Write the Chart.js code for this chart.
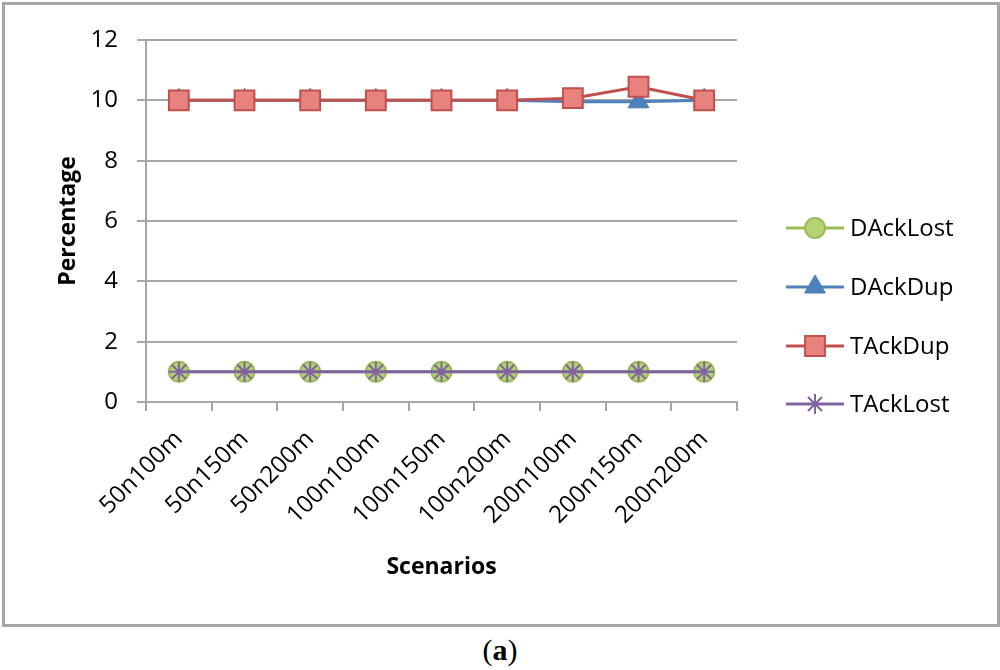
<!DOCTYPE html>
<html>
<head>
<meta charset="utf-8">
<script src="https://cdn.jsdelivr.net/npm/chart.js@4.4.0/dist/chart.umd.min.js"></script>
<style>
    body { margin: 0; background: #fff; }
    #wrap { position: relative; width: 1000px; height: 670px; }
    #frame { position: absolute; left: 2px; top: 2px; width: 992px; height: 619px; border: 3px solid #a5a5a5; }
    #chart { position: absolute; left: 0; top: 0; }
    #caption { position: absolute; left: 0; width: 1000px; top: 633px; text-align: center;
        font-family: "Liberation Serif", serif; font-size: 30px; }
</style>
</head>
<body>
<div id="wrap">
    <div id="frame"></div>
    <canvas id="chart" width="1000" height="625"></canvas>
    <div id="caption">(<b>a</b>)</div>
</div>
<script>
const scenarios = ["50n100m", "50n150m", "50n200m", "100n100m", "100n150m", "100n200m", "200n100m", "200n150m", "200n200m"];
const dAckLost = [1, 1, 1, 1, 1, 1, 1, 1, 1];
const dAckDup = [10, 10, 10, 10, 10, 10, 9.95, 9.95, 10];
const tAckDup = [10, 10, 10, 10, 10, 10, 10.07, 10.45, 10];
const tAckLost = [1, 1, 1, 1, 1, 1, 1, 1, 1];
const legendRows = [228, 287, 346, 404];

const font = "'Open Sans', sans-serif";
const gridGray = "#a6a6a6";

// legend drawn by hand so each entry gets the line through the marker
const sideLegend = {
    id: "sideLegend",
    afterDraw(chart) {
        const c = chart.ctx;
        chart.data.datasets.forEach((ds, i) => {
            const y = legendRows[i];
            c.save();
            c.strokeStyle = ds.borderColor;
            c.lineWidth = 3;
            c.beginPath();
            c.moveTo(786, y);
            c.lineTo(844, y);
            c.stroke();
            c.fillStyle = ds.pointBackgroundColor;
            c.strokeStyle = ds.pointBorderColor;
            c.lineWidth = ds.pointBorderWidth;
            Chart.helpers.drawPoint(c, { pointStyle: ds.pointStyle, radius: ds.pointRadius, borderWidth: ds.pointBorderWidth, rotation: 0 }, 815, y);
            c.fillStyle = "#000";
            c.font = "24px " + font;
            c.textBaseline = "middle";
            c.fillText(ds.label, 850, y + 1);
            c.restore();
        });
    },
};

new Chart(document.getElementById("chart"), {
    type: "line",
    data: {
        labels: scenarios,
        datasets: [
            {
                label: "DAckLost",
                data: dAckLost,
                borderColor: "#9bbb59",
                borderWidth: 3,
                pointStyle: "circle",
                pointRadius: 10,
                pointBackgroundColor: "#b3d372",
                pointBorderColor: "#9bbb59",
                pointBorderWidth: 2,
                order: 3,
            },
            {
                label: "DAckDup",
                data: dAckDup,
                borderColor: "#4f81bd",
                borderWidth: 3,
                pointStyle: "triangle",
                pointRadius: 12,
                pointBackgroundColor: "#4f81bd",
                pointBorderColor: "#4a7ab3",
                pointBorderWidth: 1,
                order: 2,
            },
            {
                label: "TAckDup",
                data: tAckDup,
                borderColor: "#c0504d",
                borderWidth: 3,
                pointStyle: "rect",
                pointRadius: 14,
                pointBackgroundColor: "#e8827f",
                pointBorderColor: "#c0504d",
                pointBorderWidth: 2,
                order: 1,
            },
            {
                label: "TAckLost",
                data: tAckLost,
                borderColor: "#8064a2",
                borderWidth: 3,
                pointStyle: "star",
                pointRadius: 10,
                pointBackgroundColor: "#8064a2",
                pointBorderColor: "#8064a2",
                pointBorderWidth: 2,
                order: 0,
            },
        ],
    },
    options: {
        responsive: false,
        animation: false,
        devicePixelRatio: 1,
        layout: {
            padding: { left: 51, top: 40, right: 263, bottom: 40 },
        },
        plugins: {
            legend: { display: false },
            tooltip: { enabled: false },
        },
        scales: {
            x: {
                offset: true,
                afterFit: (scale) => { scale.height = 183; },
                grid: {
                    offset: true,
                    drawOnChartArea: false,
                    color: gridGray,
                    lineWidth: 2,
                    tickLength: 9,
                },
                border: { color: gridGray, width: 2 },
                ticks: {
                    color: "#000",
                    font: { family: font, size: 24 },
                    maxRotation: 45,
                    minRotation: 45,
                    padding: 14,
                    autoSkip: false,
                },
                title: {
                    display: true,
                    text: "Scenarios",
                    color: "#000",
                    font: { family: font, size: 23, weight: "bold" },
                },
            },
            y: {
                min: 0,
                max: 12,
                afterFit: (scale) => { scale.width = 95; },
                grid: {
                    color: gridGray,
                    lineWidth: 2,
                    tickLength: 9,
                },
                border: { color: gridGray, width: 2 },
                ticks: {
                    stepSize: 2,
                    color: "#000",
                    font: { family: font, size: 24 },
                    padding: 19,
                },
                title: {
                    display: true,
                    text: "Percentage",
                    color: "#000",
                    font: { family: font, size: 23, weight: "bold" },
                },
            },
        },
    },
    plugins: [sideLegend],
});
</script>
</body>
</html>
